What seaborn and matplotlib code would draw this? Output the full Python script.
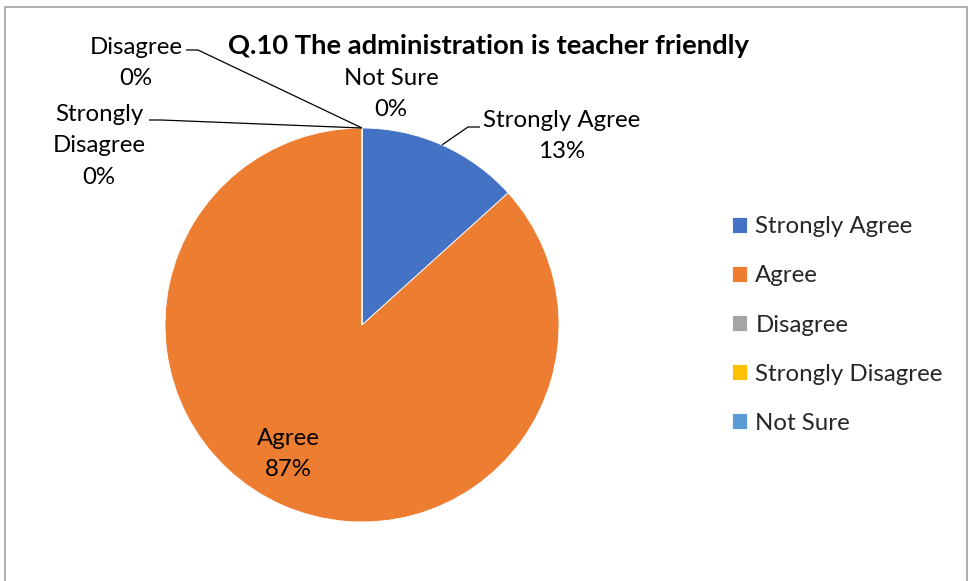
import numpy as np
import matplotlib
matplotlib.use('Agg')
import matplotlib.pyplot as plt
from matplotlib.patches import Rectangle
import seaborn as sns

categories = ['Strongly Agree', 'Agree', 'Disagree', 'Strongly Disagree', 'Not Sure']
percent = [13.3, 86.7, 0, 0, 0]
colors = ['#4472C4', '#ED7D31', '#A5A5A5', '#FFC000', '#5B9BD5']
title = 'Q.10 The administration is teacher friendly'

sns.set_style('white')
plt.rcParams['font.family'] = ['Lato', 'DejaVu Sans']

W, H = 971, 581
fig = plt.figure(figsize=(W / 100, H / 100), dpi=100)
ax = fig.add_axes([0, 0, 1, 1])

def fy(y):
    # pixel row (top down) -> axes y
    return H - y

cx, cy, r = 362, fy(325), 197
wedges, _ = ax.pie(percent, colors=colors, startangle=90, counterclock=False,
                   center=(cx, cy), radius=r,
                   wedgeprops=dict(edgecolor='white', linewidth=0.6))
ax.set_xlim(0, W)
ax.set_ylim(0, H)
ax.set_aspect('equal')
ax.axis('off')

# data labels: (text x, text y, elbow points) in pixel rows
lab_fs = 17.3
label_text = ['Strongly Agree', 'Agree', 'Disagree', 'Strongly\nDisagree', 'Not Sure']
label_pos = [(562, 136), (288, 454), (136, 63), (99, 146), (391, 94)]
elbows = [[(480, 127), (468, 127)], None, [(186, 50), (198, 50)], [(149, 120), (161, 120)], None]

for w, name, v, (tx, ty), elb in zip(wedges, label_text, percent, label_pos, elbows):
    ax.text(tx, fy(ty), f'{name}\n{round(v)}%', ha='center', va='center',
            fontsize=lab_fs, color='#000000', linespacing=1.6)
    if elb is not None:
        mid = np.deg2rad((w.theta1 + w.theta2) / 2)
        ex, ey = cx + r * np.cos(mid), cy + r * np.sin(mid)
        xs = [p[0] for p in elb] + [ex]
        ys = [fy(p[1]) for p in elb] + [ey]
        ax.plot(xs, ys, color='black', lw=0.9, solid_capstyle='butt')

ax.text(488, fy(46), title, ha='center', va='center', fontsize=19.7,
        fontweight='bold', color='#000000')

ax.legend(wedges, categories, loc='center left',
          bbox_to_anchor=(720 / W, 1 - 325 / H), bbox_transform=fig.transFigure,
          frameon=False, fontsize=lab_fs, handlelength=0.62, handleheight=0.62,
          handletextpad=0.35, labelspacing=1.17, borderpad=0)

fig.patches.append(Rectangle((5 / W, -0.01), 962 / W, 1 - 7 / H + 0.01,
                             transform=fig.transFigure, fill=False,
                             edgecolor='#A0A0A0', lw=1.2))

fig.savefig('out.png', dpi=100, facecolor='white')
